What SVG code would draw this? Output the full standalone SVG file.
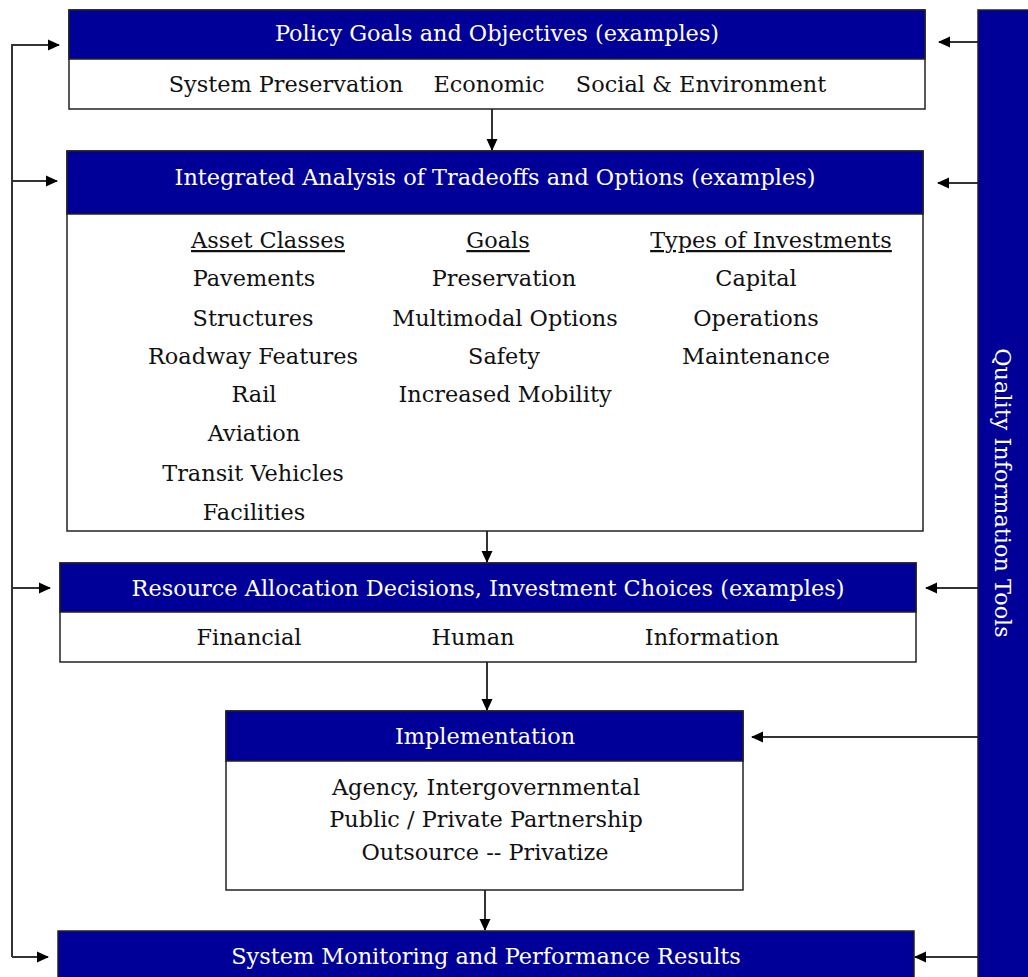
<svg xmlns="http://www.w3.org/2000/svg" width="1028" height="977" viewBox="0 0 1028 977">
<defs>
<marker id="ah" markerWidth="12" markerHeight="12" refX="11" refY="6" orient="auto" markerUnits="userSpaceOnUse" viewBox="0 0 12 12">
<path d="M0,0.5 L12,6 L0,11.5 z" fill="#000"/>
</marker>
<style>
.hd{fill:#000099;stroke:#222;stroke-width:1.5}
.bd{fill:#fff;stroke:#222;stroke-width:1.5}
.ht{font-family:"DejaVu Serif","Liberation Serif",serif;font-size:22.4px;fill:#fff;text-anchor:middle}
.bt{font-family:"DejaVu Serif","Liberation Serif",serif;font-size:22.4px;fill:#111;text-anchor:middle}
.ul{text-decoration:underline}
.cn{fill:none;stroke:#333;stroke-width:2}
.ca{fill:none;stroke:#333;stroke-width:2;marker-end:url(#ah)}
</style>
</defs>
<g id="connectors">
<polyline class="cn" points="57,45 12,45 12,957"/>
<line class="ca" x1="12" y1="45" x2="59" y2="45"/>
<line class="ca" x1="12" y1="181" x2="57" y2="181"/>
<line class="ca" x1="12" y1="588" x2="50" y2="588"/>
<line class="ca" x1="12" y1="957" x2="48" y2="957"/>
<line class="ca" x1="978" y1="42" x2="939" y2="42"/>
<line class="ca" x1="978" y1="183" x2="938" y2="183"/>
<line class="ca" x1="978" y1="588" x2="926" y2="588"/>
<line class="ca" x1="978" y1="737" x2="752" y2="737"/>
<line class="ca" x1="978" y1="957" x2="915" y2="957"/>
<line class="ca" x1="492" y1="109" x2="492" y2="150"/>
<line class="ca" x1="487" y1="531" x2="487" y2="562"/>
<line class="ca" x1="487" y1="662" x2="487" y2="710"/>
<line class="ca" x1="485" y1="890" x2="485" y2="930"/>
</g>
<g id="quality-tools">
<rect x="978" y="10" width="52" height="970" fill="#000099" stroke="#222" stroke-width="1.5"/>
<text class="ht" transform="translate(1003,493) rotate(90)" dy="8" font-size="23px">Quality Information Tools</text>
</g>
<g id="policy">
<rect class="bd" x="69" y="10" width="856" height="99"/>
<rect class="hd" x="69" y="10" width="856" height="49"/>
<text class="ht" x="497" y="41">Policy Goals and Objectives (examples)</text>
<text class="bt" x="286" y="92">System Preservation</text>
<text class="bt" x="489" y="92">Economic</text>
<text class="bt" x="701" y="92">Social &amp; Environment</text>
</g>
<g id="analysis">
<rect class="bd" x="67" y="151" width="856" height="380"/>
<rect class="hd" x="67" y="151" width="856" height="63"/>
<text class="ht" x="495" y="185">Integrated Analysis of Tradeoffs and Options (examples)</text>
<text class="bt ul" x="268" y="248">Asset Classes</text>
<text class="bt ul" x="498" y="248">Goals</text>
<text class="bt ul" x="771" y="248">Types of Investments</text>
<text class="bt" x="254" y="286">Pavements</text>
<text class="bt" x="253" y="326">Structures</text>
<text class="bt" x="253" y="364">Roadway Features</text>
<text class="bt" x="254" y="402">Rail</text>
<text class="bt" x="254" y="441">Aviation</text>
<text class="bt" x="253" y="481">Transit Vehicles</text>
<text class="bt" x="254" y="520">Facilities</text>
<text class="bt" x="504" y="286">Preservation</text>
<text class="bt" x="505" y="326">Multimodal Options</text>
<text class="bt" x="504" y="364">Safety</text>
<text class="bt" x="505" y="402">Increased Mobility</text>
<text class="bt" x="756" y="286">Capital</text>
<text class="bt" x="756" y="326">Operations</text>
<text class="bt" x="756" y="364">Maintenance</text>
</g>
<g id="resource">
<rect class="bd" x="60" y="563" width="856" height="99"/>
<rect class="hd" x="60" y="563" width="856" height="49"/>
<text class="ht" x="488" y="596">Resource Allocation Decisions, Investment Choices (examples)</text>
<text class="bt" x="249" y="645">Financial</text>
<text class="bt" x="473" y="645">Human</text>
<text class="bt" x="712" y="645">Information</text>
</g>
<g id="implementation">
<rect class="bd" x="226" y="711" width="517" height="179"/>
<rect class="hd" x="226" y="711" width="517" height="50"/>
<text class="ht" x="485" y="744">Implementation</text>
<text class="bt" x="486" y="795">Agency, Intergovernmental</text>
<text class="bt" x="486" y="827">Public / Private Partnership</text>
<text class="bt" x="485" y="860">Outsource -- Privatize</text>
</g>
<g id="monitoring">
<rect class="hd" x="58" y="931" width="856" height="60"/>
<text class="ht" x="486" y="964">System Monitoring and Performance Results</text>
</g>
</svg>
